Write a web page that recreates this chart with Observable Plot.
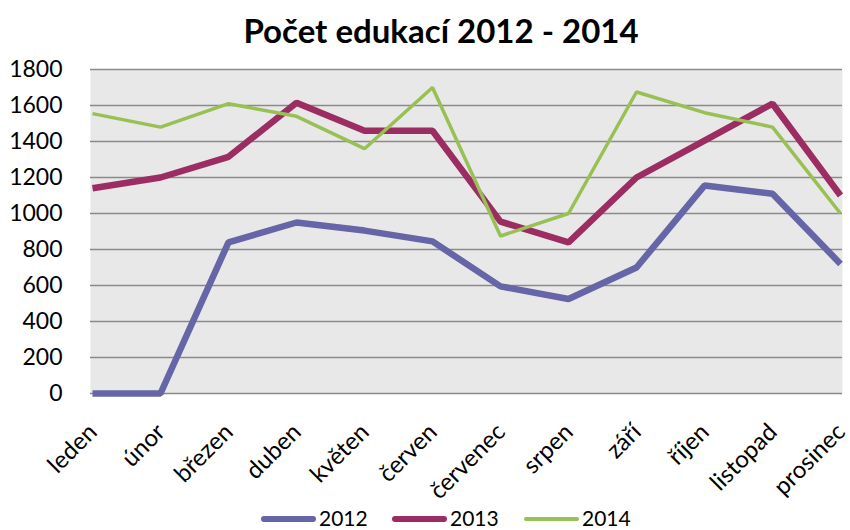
<!DOCTYPE html>
<html>
<head>
<meta charset="utf-8">
<script src="https://cdn.jsdelivr.net/npm/d3@7"></script>
<script src="https://cdn.jsdelivr.net/npm/@observablehq/plot@0.6"></script>
<style>
  html, body { margin: 0; padding: 0; background: #fff; }
  body { width: 850px; height: 530px; overflow: hidden; font-family: Lato, sans-serif; position: relative; }
  #title { height: 60px; text-align: center; font-size: 33px; font-weight: bold; color: #000; padding-left: 32px; padding-top: 11px; box-sizing: border-box; line-height: 38px; }
  #chart svg { display: block; overflow: visible; }
  #legend { position: absolute; left: 0; top: 500px; width: 850px; height: 30px; }
  #legend .item { position: absolute; top: 0; height: 30px; }
  #legend .sw { position: absolute; left: 0; width: 55px; border-radius: 4px; }
  #legend .lab { position: absolute; left: 58px; top: 7px; font-size: 21px; line-height: 22px; color: #000; }
</style>
</head>
<body>
<div id="title">Počet edukací 2012 - 2014</div>
<div id="chart"></div>
<div id="legend"></div>
<script>
const months = ["leden", "únor", "březen", "duben", "květen", "červen", "červenec", "srpen", "září", "říjen", "listopad", "prosinec"];
const v2012 = [0, 0, 840, 950, 905, 845, 595, 525, 700, 1155, 1110, 720];
const v2013 = [1140, 1200, 1315, 1615, 1460, 1460, 955, 840, 1200, 1405, 1610, 1100];
const v2014 = [1555, 1480, 1610, 1540, 1360, 1700, 875, 1000, 1675, 1560, 1480, 1000];
const seriesNames = ["2012", "2013", "2014"];
const seriesColors = ["#6565a7", "#9b2d62", "#98c052"];
const seriesWidths = [6.5, 6.5, 3.5];
const yTicks = [0, 200, 400, 600, 800, 1000, 1200, 1400, 1600, 1800];

const allSeries = [v2012, v2013, v2014];
const rows = [];
allSeries.forEach((vals, s) => vals.forEach((v, i) => rows.push({month: months[i], value: v, series: seriesNames[s]})));

const chart = Plot.plot({
  width: 850,
  height: 440,
  marginTop: 9,
  marginBottom: 107,
  marginLeft: 90,
  marginRight: 8,
  style: {fontFamily: "Lato, sans-serif", fontSize: "23px", color: "#000", background: "transparent", overflow: "visible"},
  x: {type: "point", domain: months, padding: 0, label: null, axis: null},
  y: {domain: [0, 1800], ticks: yTicks, label: null, axis: null},
  marks: [
    Plot.frame({fill: "#e8e8e8", stroke: null}),
    Plot.gridY(yTicks, {stroke: "#8a8a8a", strokeOpacity: 1, strokeWidth: 1.3}),
    Plot.axisY(yTicks, {tickSize: 0, tickPadding: 28, fontSize: 23, tickFormat: d => String(d), label: null}),
    Plot.text(months, {x: d => d, frameAnchor: "bottom", dx: 6, dy: 40, rotate: -45, textAnchor: "end", lineAnchor: "bottom", fontSize: 24, fill: "#000"}),
    ...seriesNames.map((name, s) =>
      Plot.line(rows.filter(d => d.series === name), {
        x: "month", y: "value", stroke: seriesColors[s], strokeWidth: seriesWidths[s], strokeLinejoin: "miter", strokeLinecap: "butt"
      })
    )
  ]
});
document.getElementById("chart").appendChild(chart);

const legend = document.getElementById("legend");
const legendX = [261, 392, 524];
seriesNames.forEach((name, s) => {
  const item = document.createElement("div");
  item.className = "item";
  item.style.left = legendX[s] + "px";
  const sw = document.createElement("div");
  sw.className = "sw";
  sw.style.background = seriesColors[s];
  sw.style.height = seriesWidths[s] + "px";
  sw.style.top = (19 - seriesWidths[s] / 2) + "px";
  const lab = document.createElement("div");
  lab.className = "lab";
  lab.textContent = name;
  item.appendChild(sw);
  item.appendChild(lab);
  legend.appendChild(item);
});
</script>
</body>
</html>
